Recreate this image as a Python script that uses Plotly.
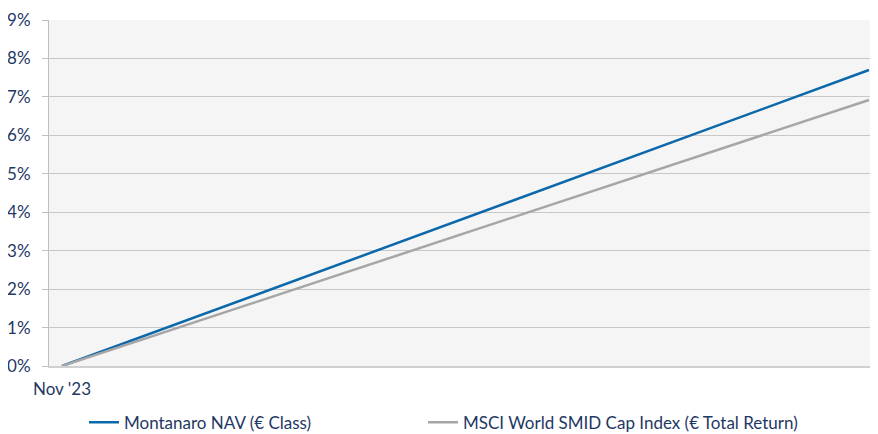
import plotly.graph_objects as go

# Data
periods = [0, 1]
period_labels = ["Nov '23", ""]
montanaro_nav = [0.0, 7.70]
msci_smid = [0.0, 6.92]
y_ticks = list(range(0, 10))
y_tick_labels = [f"{v}%" for v in y_ticks]

TEXT = "#1F3864"
FONT = "Lato"

fig = go.Figure()
fig.add_trace(go.Scatter(
    x=periods, y=montanaro_nav, mode="lines",
    name="Montanaro NAV (€ Class)",
    line=dict(color="#0B68AA", width=2.5),
    legend="legend",
))
fig.add_trace(go.Scatter(
    x=periods, y=msci_smid, mode="lines",
    name="MSCI World SMID Cap Index (€ Total Return)",
    line=dict(color="#A6A6A6", width=2.5),
    legend="legend2",
))

legend_common = dict(
    orientation="h", xanchor="left",
    y=-0.164, yanchor="middle",
    font=dict(family=FONT, size=17, color=TEXT),
    bgcolor="rgba(0,0,0,0)",
)

fig.update_layout(
    width=870, height=426,
    margin=dict(l=41, r=0, t=12, b=68, autoexpand=False),
    paper_bgcolor="white",
    plot_bgcolor="#F5F5F5",
    font=dict(family=FONT, size=17, color=TEXT),
    showlegend=True,
    legend=dict(x=0.0422, **legend_common),
    legend2=dict(x=0.4511, **legend_common),
)
fig.update_xaxes(
    range=[-0.0161, 1.0112],
    tickvals=periods, ticktext=period_labels,
    showgrid=False, zeroline=False,
    showline=True, linecolor="#D0D0D0", linewidth=2,
    ticks="", ticklabelstandoff=7,
    tickfont=dict(family=FONT, size=17, color=TEXT),
)
fig.update_yaxes(
    range=[0, 9],
    tickvals=y_ticks, ticktext=y_tick_labels,
    showgrid=True, gridcolor="#C8C8C8", gridwidth=1,
    zeroline=False,
    showline=True, linecolor="#C0C0C0", linewidth=1,
    ticks="outside", ticklen=6, tickcolor="#C0C0C0",
    ticklabelstandoff=8,
    tickfont=dict(family=FONT, size=17, color=TEXT),
)

fig.write_html("out.html")
